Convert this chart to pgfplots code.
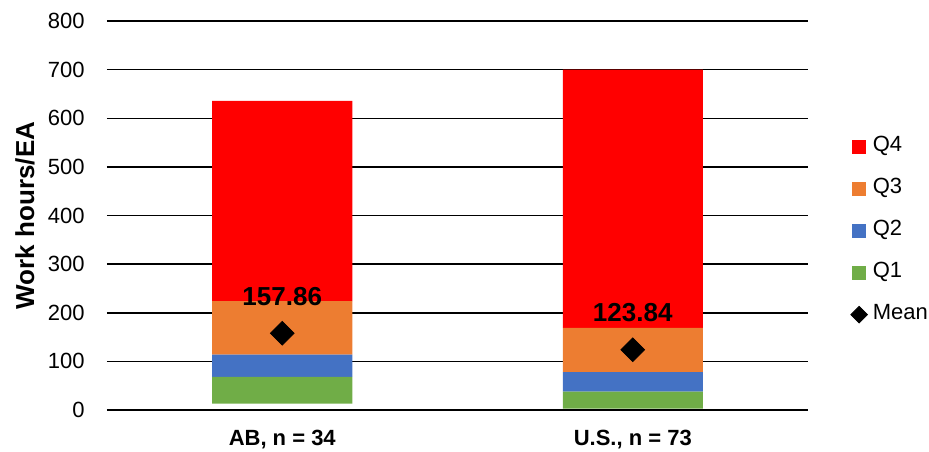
\documentclass[border=0pt]{standalone}
\usepackage{pgfplots}
\pgfplotsset{compat=1.18}
\usepackage{fontspec}
\setmainfont{Liberation Sans}

\definecolor{qfour}{HTML}{FF0000}
\definecolor{qthree}{HTML}{ED7D31}
\definecolor{qtwo}{HTML}{4472C4}
\definecolor{qone}{HTML}{70AD47}

\begin{document}
\begin{tikzpicture}[font=\fontsize{11}{13}\selectfont]
\path[use as bounding box] (-53.5pt,-20.5pt) rectangle (411pt,205pt);
% stacked bars (invisible base series gives the floating start)
\begin{axis}[
  at={(0,0)}, anchor=south west,
  scale only axis,
  width=350.5pt, height=194.5pt,
  ybar stacked, bar width=70pt,
  xmin=-0.5, xmax=1.5,
  ymin=0, ymax=800,
  ytick={0,100,...,800},
  xtick={0,1},
  xticklabels={{AB, n = 34},{U.S., n = 73}},
  major tick length=0pt,
  axis line style={draw=none},
  ymajorgrids,
  major grid style={black, line width=0.75pt},
  /pgf/number format/assume math mode=true,
  yticklabel style={anchor=east, inner sep=0pt, xshift=-11pt},
  xticklabel style={anchor=north, inner sep=0pt, yshift=-10pt, font=\fontsize{11}{13}\selectfont\bfseries},
  ylabel={Work hours/EA},
  every axis y label/.style={at={(axis description cs:-0.117,0.5)}, rotate=90,
     anchor=center, font=\fontsize{13}{15}\selectfont\bfseries},
]
\addplot[fill=none, draw=none] coordinates {(0,13) (1,3)};
\addplot[fill=qone, draw=none] coordinates {(0,55) (1,35)};
\addplot[fill=qtwo, draw=none] coordinates {(0,46) (1,40)};
\addplot[fill=qthree, draw=none] coordinates {(0,110) (1,91)};
\addplot[fill=qfour, draw=none] coordinates {(0,412) (1,531)};
\end{axis}
% mean markers, labels and legend
\begin{axis}[
  at={(0,0)}, anchor=south west,
  scale only axis,
  width=350.5pt, height=194.5pt,
  xmin=-0.5, xmax=1.5,
  ymin=0, ymax=800,
  hide axis,
  legend cell align=left,
  legend style={at={(1.06,0.461)}, anchor=west, draw=none, fill=none,
     inner sep=0pt, row sep=11pt, column sep=2.5pt,
     nodes={inner sep=0pt, text height=7.5pt, text depth=2.5pt, anchor=west}},
]
\addlegendimage{legend image code/.code={\fill[qfour] (0pt,-3.15pt) rectangle (6.3pt,3.15pt);}}
\addlegendentry{Q4}
\addlegendimage{legend image code/.code={\fill[qthree] (0pt,-3.15pt) rectangle (6.3pt,3.15pt);}}
\addlegendentry{Q3}
\addlegendimage{legend image code/.code={\fill[qtwo] (0pt,-3.15pt) rectangle (6.3pt,3.15pt);}}
\addlegendentry{Q2}
\addlegendimage{legend image code/.code={\fill[qone] (0pt,-3.15pt) rectangle (6.3pt,3.15pt);}}
\addlegendentry{Q1}
\addlegendimage{legend image code/.code={\fill[black] (-1pt,0pt) -- (3.15pt,4.15pt) -- (7.3pt,0pt) -- (3.15pt,-4.15pt) -- cycle;}}
\addlegendentry{Mean}
\addplot[only marks, mark=square*, mark size=4.2pt, mark options={rotate=45, fill=black, draw=black},
  point meta=explicit symbolic,
  nodes near coords,
  every node near coord/.style={anchor=center, yshift=18.5pt, text=black,
     font=\fontsize{13}{15}\selectfont\bfseries}]
  coordinates {(0,157.86) [157.86] (1,123.84) [123.84]};
\end{axis}
\end{tikzpicture}
\end{document}
